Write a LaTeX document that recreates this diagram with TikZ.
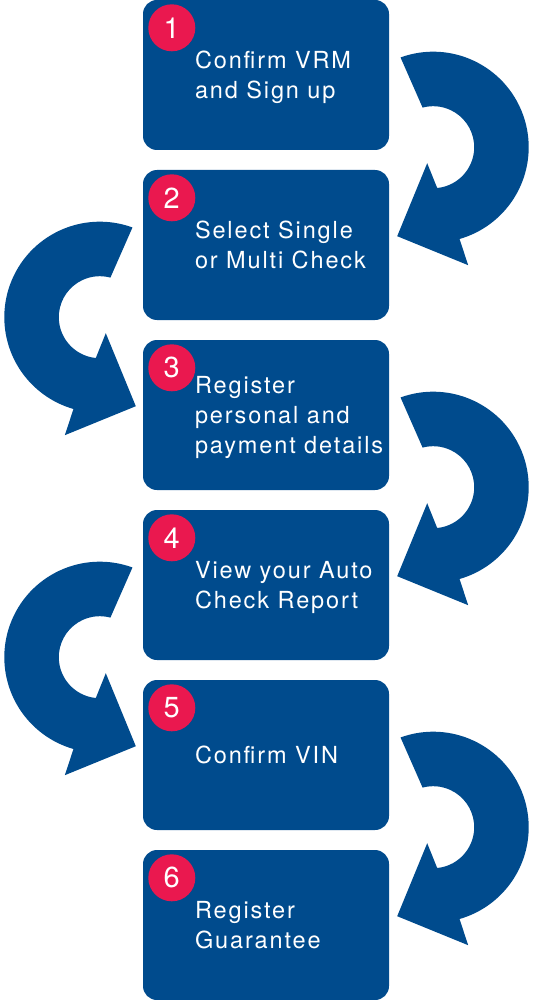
\documentclass[tikz,border=0pt]{standalone}
\usepackage{fontspec}
\setmainfont{TeX Gyre Heros}[LetterSpace=8]
\usetikzlibrary{calc}
\definecolor{boxblue}{RGB}{0,75,141}
\definecolor{numred}{RGB}{234,24,79}
\begin{document}
\begin{tikzpicture}[x=1pt,y=1pt,
 stepbox/.style={fill=boxblue, rounded corners=14pt, minimum width=246pt, minimum height=150pt, inner sep=0pt, draw=none},
 numdot/.style={circle, fill=numred, minimum size=47pt, inner sep=0pt, text=white, font=\fontsize{29}{29}\selectfont},
 steptext/.style={text=white, align=left, font=\fontsize{23.5}{30}\selectfont, anchor=west, inner sep=0pt, text depth=0pt},
 bendarrow/.pic={\fill[boxblue] (110:95.5) arc[start angle=110,end angle=-74,radius=95.5pt] -- (35,-118) -- (-36,-89) -- (-6,-16) -- (-84.4:41) arc[start angle=-84.4,end angle=105,radius=41pt] -- cycle;}
]
\useasboundingbox (0,0) rectangle (534,-1000);
\node[stepbox] (b1) at (266,-75) {};
\node[stepbox] (b2) at (266,-245) {};
\node[stepbox] (b3) at (266,-415) {};
\node[stepbox] (b4) at (266,-585) {};
\node[stepbox] (b5) at (266,-755) {};
\node[stepbox] (b6) at (266,-925) {};
\pic at ($(b1.south east)+(44,3)$) {bendarrow};
\pic[xscale=-1] at ($(b2.south west)+(-43,3)$) {bendarrow};
\pic at ($(b3.south east)+(44,3)$) {bendarrow};
\pic[xscale=-1] at ($(b4.south west)+(-43,3)$) {bendarrow};
\pic at ($(b5.south east)+(44,3)$) {bendarrow};
\foreach \i in {1,...,6}{
  \node[numdot] (n\i) at ($(b\i.north west)+(29,-28)$) {\i};
}
\node[steptext] (t1) at ($(b1.west)+(52,0)$) {Confirm VRM\\and Sign up};
\node[steptext] (t2) at ($(b2.west)+(52,0)$) {Select Single\\or Multi Check};
\node[steptext] (t3) at ($(b3.west)+(52,0)$) {Register\\personal and\\payment details};
\node[steptext] (t4) at ($(b4.west)+(52,0)$) {View your Auto\\Check Report};
\node[steptext] (t5) at ($(b5.west)+(52,0)$) {Confirm VIN};
\node[steptext] (t6) at ($(b6.west)+(52,0)$) {Register\\Guarantee};
\end{tikzpicture}
\end{document}
